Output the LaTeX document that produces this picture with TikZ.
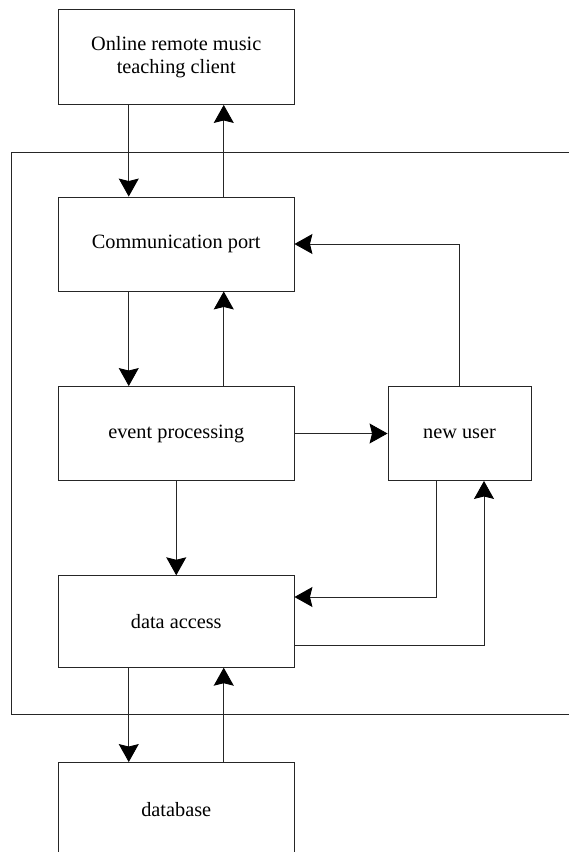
\documentclass[tikz,border=0pt]{standalone}
\usepackage{fontspec}
\setmainfont{Liberation Serif}
\usetikzlibrary{arrows.meta}
\begin{document}
\begin{tikzpicture}[x=1pt,y=-1pt,
  box/.style={draw=black!85, line width=0.9pt, minimum width=235.5pt, inner sep=0pt,
    font=\fontsize{20.3}{23}\selectfont, align=center},
  arr/.style={draw=black!85, line width=0.9pt, -{Stealth[length=18pt,width=20pt,inset=2.5pt,black]}},
  ln/.style={draw=black!85, line width=0.9pt}]
\useasboundingbox (0,0) rectangle (569,852);
\clip (0,0) rectangle (569,852);
\fill[white] (0,0) rectangle (569,852);
% frame
\draw[ln] (11.5,152) -- (600,152) (11.5,152) -- (11.5,714.5) -- (600,714.5);
% boxes
\node[box, minimum height=95pt] (client) at (176.25,57) {Online remote music\\teaching client};
\node[box, minimum height=94pt] (comm) at (176.25,244) {Communication port};
\node[box, minimum height=94pt] (event) at (176.25,433.5) {event processing};
\node[box, minimum width=143pt, minimum height=94pt] (nu) at (459.5,433.5) {new user};
\node[box, minimum height=91.5pt] (data) at (176.25,621.5) {data access};
\node[box, minimum height=94pt] (db) at (176.25,809.5) {database};
% connectors
\draw[arr] ([xshift=-47.5pt]client.south) -- ([xshift=-47.5pt]comm.north);
\draw[arr] ([xshift=47.5pt]comm.north) -- ([xshift=47.5pt]client.south);
\draw[arr] ([xshift=-47.5pt]comm.south) -- ([xshift=-47.5pt]event.north);
\draw[arr] ([xshift=47.5pt]event.north) -- ([xshift=47.5pt]comm.south);
\draw[arr] (event.east) -- (nu.west);
\draw[arr] (nu.north) |- (comm.east);
\draw[arr] (event.south) -- (data.north);
\draw[arr] ([xshift=-23.5pt]nu.south) |- ([yshift=24.5pt]data.east);
\draw[arr] ([yshift=-23.5pt]data.east) -| ([xshift=24.5pt]nu.south);
\draw[arr] ([xshift=-47.5pt]data.south) -- ([xshift=-47.5pt]db.north);
\draw[arr] ([xshift=47.5pt]db.north) -- ([xshift=47.5pt]data.south);
\end{tikzpicture}
\end{document}
